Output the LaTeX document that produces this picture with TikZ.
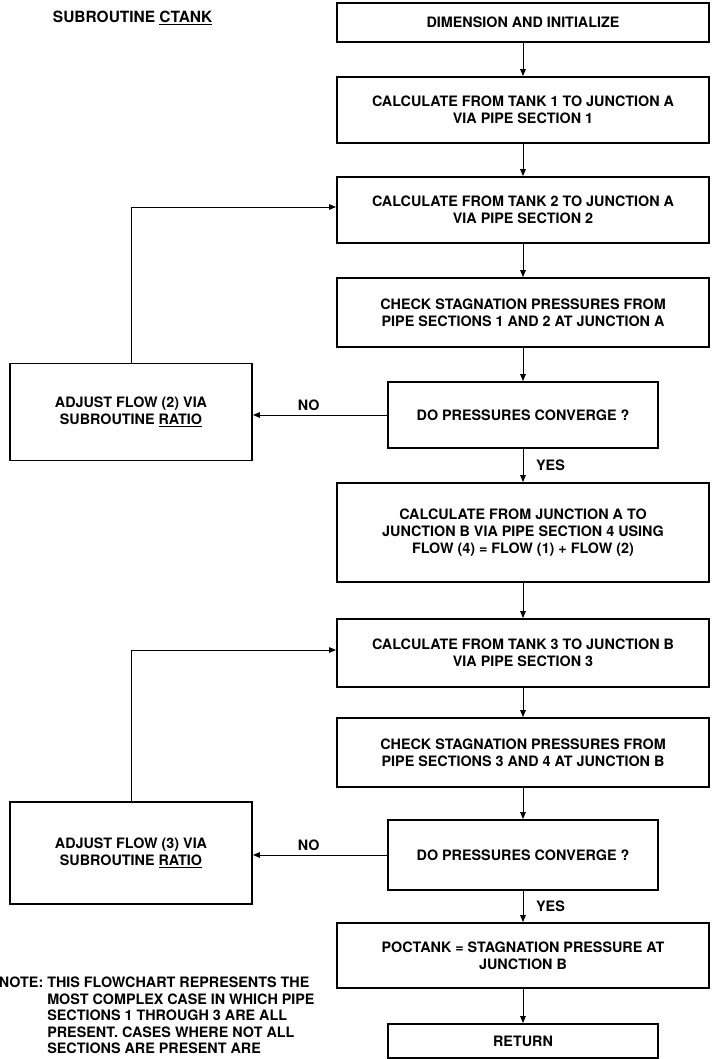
\documentclass[tikz,border=0pt]{standalone}
\usepackage{fontspec}
\setmainfont{TeX Gyre Heros}
\usetikzlibrary{arrows.meta}

\begin{document}
\begin{tikzpicture}[
          x=0.025cm, y=-0.025cm,
          every node/.style={font=\fontsize{10.2}{12.2}\selectfont\bfseries},
          blk/.style={rectangle, draw=black, line width=1.3pt,
                      inner sep=0pt, align=center, minimum width=9.3cm},
          dec/.style={blk, minimum width=6.75cm},
          adj/.style={blk, minimum width=6.05cm},
          arr/.style={-{Triangle[length=5pt,width=4pt]}, line width=0.7pt},
          lbl/.style={inner sep=1pt}
        ]
          \useasboundingbox (0,0) rectangle (715,1059);
          \fill[white] (0,0) rectangle (715,1059);
          \node[anchor=west, font=\fontsize{11}{13}\selectfont\bfseries] (title) at (48,18) {SUBROUTINE \underline{CTANK}};
          \node[blk, minimum height=0.975cm] (dim)    at (523,22.5)  {DIMENSION AND INITIALIZE};
          \node[blk, minimum height=1.65cm]  (tank1)  at (523,110)   {CALCULATE FROM TANK 1 TO JUNCTION A\\VIA PIPE SECTION 1};
          \node[blk, minimum height=1.65cm]  (tank2)  at (523,210)   {CALCULATE FROM TANK 2 TO JUNCTION A\\VIA PIPE SECTION 2};
          \node[blk, minimum height=1.725cm] (check1) at (523,312.5) {CHECK STAGNATION PRESSURES FROM\\PIPE SECTIONS 1 AND 2 AT JUNCTION A};
          \node[dec, minimum height=1.65cm]  (conv1)  at (523,415)   {DO PRESSURES CONVERGE ?};
          \node[adj, minimum height=2.425cm] (adj1)   at (131,412)   {ADJUST FLOW (2) VIA\\SUBROUTINE \underline{RATIO}};
          \node[blk, minimum height=2.475cm] (junc)   at (523,532.5) {CALCULATE FROM JUNCTION A TO\\JUNCTION B VIA PIPE SECTION 4 USING\\FLOW (4) = FLOW (1) + FLOW (2)};
          \node[blk, minimum height=1.7cm]   (tank3)  at (523,653)   {CALCULATE FROM TANK 3 TO JUNCTION B\\VIA PIPE SECTION 3};
          \node[blk, minimum height=1.725cm] (check2) at (523,752.5) {CHECK STAGNATION PRESSURES FROM\\PIPE SECTIONS 3 AND 4 AT JUNCTION B};
          \node[dec, minimum height=1.75cm]  (conv2)  at (523,855)   {DO PRESSURES CONVERGE ?};
          \node[adj, minimum height=2.55cm]  (adj2)   at (131,853)   {ADJUST FLOW (3) VIA\\SUBROUTINE \underline{RATIO}};
          \node[blk, minimum height=1.625cm] (poc)    at (523,955.5) {POCTANK = STAGNATION PRESSURE AT\\JUNCTION B};
          \node[dec, minimum height=0.85cm]  (ret)    at (523,1041)  {RETURN};
          \node[anchor=north west, align=left, inner sep=0pt,
                font=\fontsize{10.2}{11.7}\selectfont\bfseries] (note) at (47,977)
            {\llap{NOTE:~}THIS FLOWCHART REPRESENTS THE\\MOST COMPLEX CASE IN WHICH PIPE\\SECTIONS 1 THROUGH 3 ARE ALL\\PRESENT. CASES WHERE NOT ALL\\SECTIONS ARE PRESENT ARE};
          % main column
          \draw[arr] (dim)--(tank1);
          \draw[arr] (tank1)--(tank2);
          \draw[arr] (tank2)--(check1);
          \draw[arr] (check1)--(conv1);
          \draw[arr] (conv1)--(junc) node[lbl, midway, anchor=west, xshift=8pt] (yes1) {YES};
          \draw[arr] (junc)--(tank3);
          \draw[arr] (tank3)--(check2);
          \draw[arr] (check2)--(conv2);
          \draw[arr] (conv2)--(poc) node[lbl, midway, anchor=west, xshift=8pt] (yes2) {YES};
          \draw[arr] (poc)--(ret);
          % loops
          \draw[arr] (conv1.west)--(conv1.west -| adj1.east) node[lbl, midway, above, yshift=2pt, xshift=-8pt] (no1) {NO};
          \draw[arr] (adj1.north) |- ([yshift=0.075cm]tank2.west);
          \draw[arr] (conv2.west)--(conv2.west -| adj2.east) node[lbl, midway, above, yshift=2pt, xshift=-8pt] (no2) {NO};
          \draw[arr] (adj2.north) |- ([yshift=0.075cm]tank3.west);
        \end{tikzpicture}
\end{document}
